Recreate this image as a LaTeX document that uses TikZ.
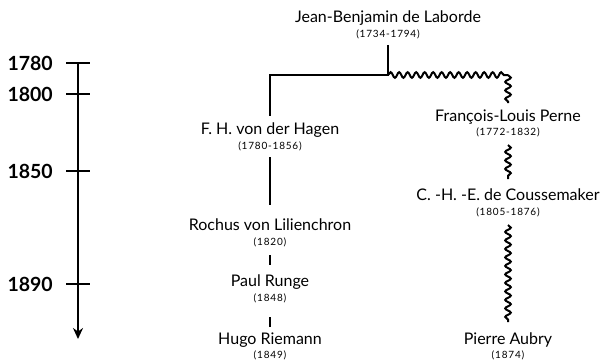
\documentclass[tikz,border=0pt]{standalone}
\usepackage{fontspec}
\setmainfont{Lato}
\newfontfamily\yrfont[LetterSpace=8]{Lato}
\usetikzlibrary{decorations.pathmorphing,arrows.meta}
\begin{document}
\begin{tikzpicture}[x=1pt,y=-1pt,
  person/.style={inner sep=0pt,font=\fontsize{16}{17}\selectfont},
  yr/.style={inner sep=0pt,font=\yrfont\fontsize{10}{11}\selectfont},
  yearlab/.style={inner sep=0pt,anchor=east,font=\fontsize{19.5}{20}\selectfont\bfseries},
  solidln/.style={line width=2.3pt},
  wave/.style={line width=2pt,decorate,decoration={snake,amplitude=2.8pt,segment length=8.5pt}},
  tickln/.style={line width=2pt}]
\useasboundingbox (0,0) rectangle (604,361);
% timeline
\coordinate (tTop) at (78,63);
\coordinate (tEnd) at (78,339);
\draw[line width=2.1pt,-{Stealth[length=11pt,width=10pt]}] (tTop) -- (tEnd);
\foreach \yy/\lab in {63/1780,94/1800,171/1850,284/1890}{
  \draw[tickln] (66,\yy) -- (90,\yy);
  \node[yearlab] at (53,\yy) {\lab};
}
% people
\node[person] (lab) at (388,18) {Jean-Benjamin de Laborde};
\node[yr] (laby) at (388,34) {(1734-1794)};
\node[person] (hag) at (270,130) {F. H. von der Hagen};
\node[yr] (hagy) at (270,146) {(1780-1856)};
\node[person] (roc) at (270,225) {Rochus von Lilienchron};
\node[yr] (rocy) at (270,242) {(1820)};
\node[person] (run) at (270,282) {Paul Runge};
\node[yr] (runy) at (270,298) {(1848)};
\node[person] (rie) at (270,340) {Hugo Riemann};
\node[yr] (riey) at (270,355) {(1849)};
\node[person] (per) at (508,117) {François-Louis Perne};
\node[yr] (pery) at (508,132) {(1772-1832)};
\node[person] (cou) at (508,195) {C. -H. -E. de Coussemaker};
\node[yr] (couy) at (508,212) {(1805-1876)};
\node[person] (aub) at (508,340) {Pierre Aubry};
\node[yr] (auby) at (508,355) {(1874)};
% connectors
\coordinate (j) at (388,75);
\coordinate (jl) at (270,75);
\coordinate (jr) at (508,75);
\draw[solidln] (laby.south |- 0,45) -- (j) -- (jl) -- (jl |- 0,116);
\draw[wave] (j) -- (jr);
\draw[wave] (jr) -- (jr |- 0,103);
\draw[solidln] (hagy.south |- 0,157) -- (roc.north |- 0,205);
\draw[solidln] (rocy.south |- 0,255) -- (run.north |- 0,265);
\draw[solidln] (runy.south |- 0,317) -- (rie.north |- 0,327);
\draw[wave] (pery.south |- 0,145) -- (cou.north |- 0,179);
\draw[wave] (couy.south |- 0,225) -- (aub.north |- 0,322);
\end{tikzpicture}
\end{document}
